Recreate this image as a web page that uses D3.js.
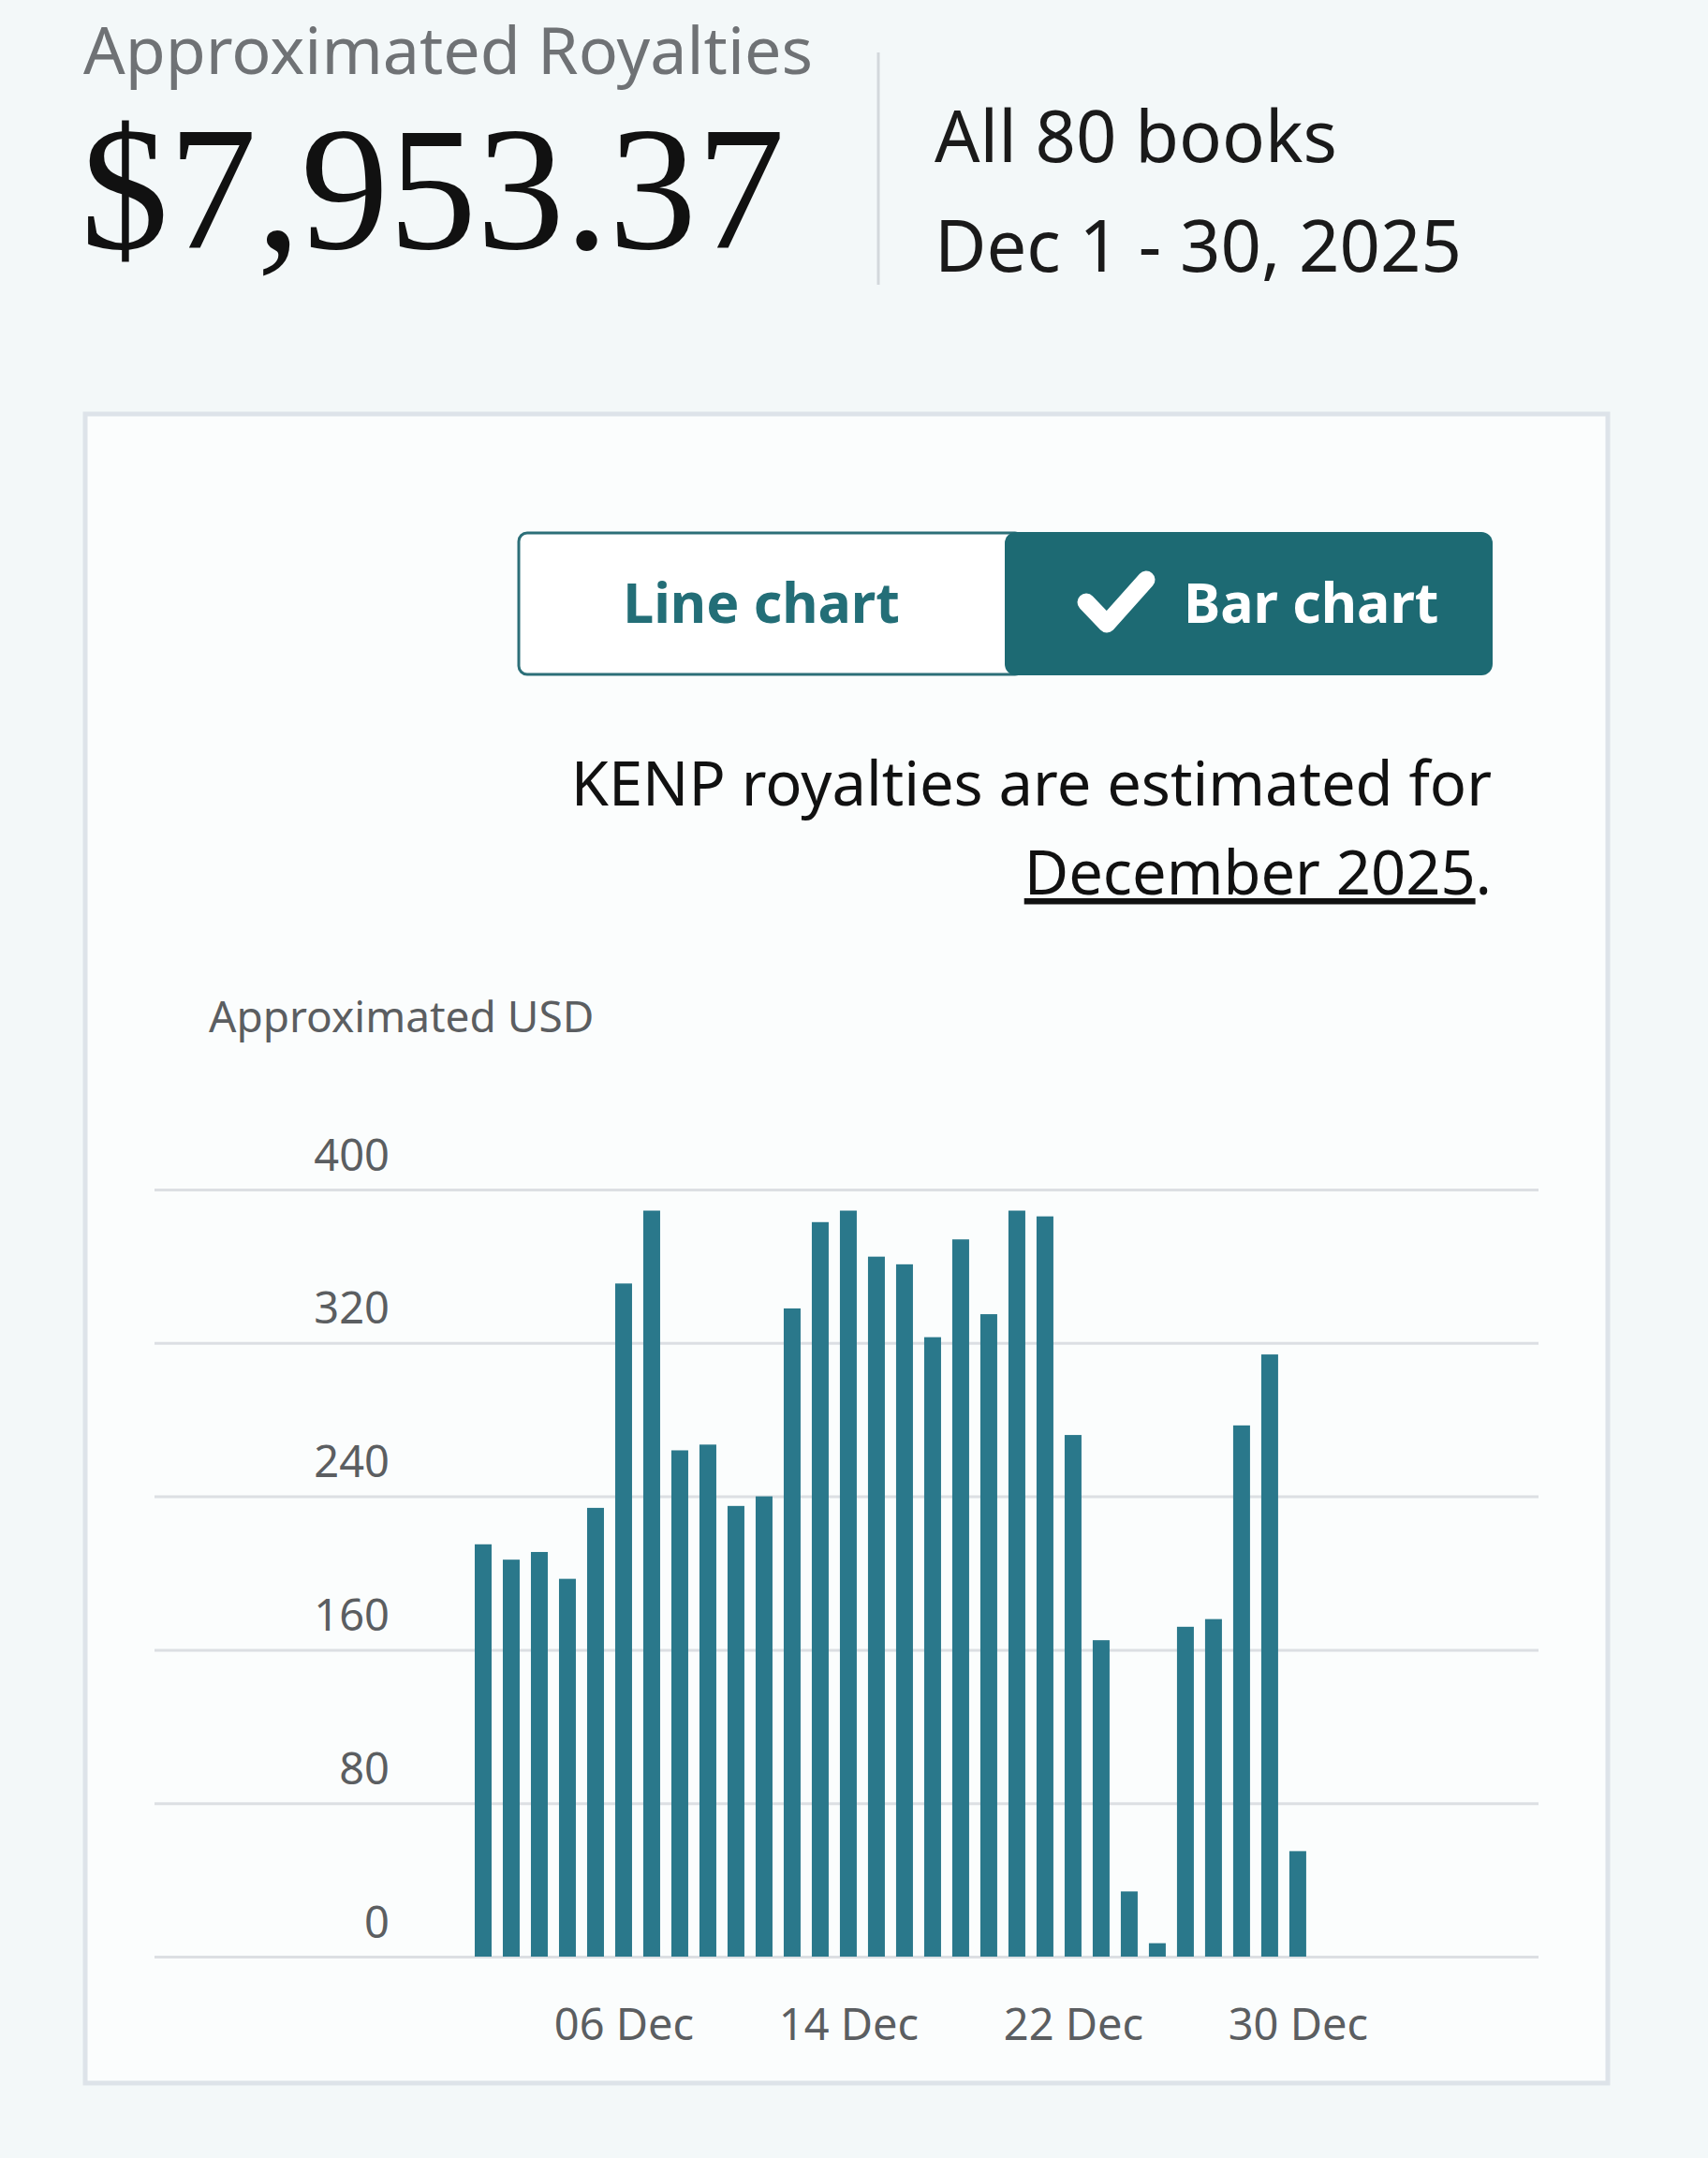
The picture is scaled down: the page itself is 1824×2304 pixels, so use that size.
<!DOCTYPE html>
<html>
<head>
<meta charset="utf-8">
<script src="https://cdn.jsdelivr.net/npm/d3@7"></script>
<style>
    body { margin: 0; background-color: #f3f8f9; }
    text { font-family: "Noto Sans", "Open Sans", sans-serif; }
</style>
</head>
<body>
<script>
//royalties bar chart, dec 2025

//data: one value per day (approximated USD)
var days = [1,2,3,4,5,6,7,8,9,10,11,12,13,14,15,16,17,18,19,20,21,22,23,24,25,26,27,28,29,30];
var royalties = [215,207,211,197,234,351,389,264,267,235,240,338,383,389,365,361,323,374,335,389,386,272,165,34,7,172,176,277,314,55];
var yTicks = [0, 80, 160, 240, 320, 400];
var xTickDays = [6, 14, 22, 30];
var xTickLabels = ["06 Dec", "14 Dec", "22 Dec", "30 Dec"];

window.onload = function(){

    var w = 1824, h = 2304;

    var container = d3.select("body")
        .append("svg")
        .attr("width", w)
        .attr("height", h)
        .attr("class", "container");

    //header block
    container.append("text")
        .attr("x", 89)
        .attr("y", 79)
        .style("font-size", "70px")
        .style("fill", "#6f7275")
        .text("Approximated Royalties");

    container.append("text")
        .attr("x", 86)
        .attr("y", 265)
        .style("font-family", "'Liberation Serif', 'DejaVu Serif', serif")
        .style("font-size", "188px")
        .style("fill", "#111")
        .text("$7,953.37");

    //divider
    container.append("line")
        .attr("x1", 938).attr("x2", 938)
        .attr("y1", 56).attr("y2", 304)
        .style("stroke", "#d3d8dc")
        .style("stroke-width", 3);

    container.append("text")
        .attr("x", 998)
        .attr("y", 173)
        .style("font-size", "76px")
        .style("fill", "#1a1a1a")
        .text("All 80 books");

    container.append("text")
        .attr("x", 998)
        .attr("y", 290)
        .style("font-size", "76px")
        .style("fill", "#1a1a1a")
        .text("Dec 1 - 30, 2025");

    //card around the chart
    container.append("rect")
        .attr("x", 91)
        .attr("y", 442)
        .attr("width", 1626)
        .attr("height", 1782)
        .style("fill", "#fbfdfd")
        .style("stroke", "#dde3e9")
        .style("stroke-width", 5);

    //toggle buttons
    var toggle = container.append("g").attr("class", "toggle");

    toggle.append("rect")
        .attr("x", 554).attr("y", 569)
        .attr("width", 539).attr("height", 151)
        .attr("rx", 9)
        .style("fill", "#ffffff")
        .style("stroke", "#2c6f78")
        .style("stroke-width", 3);

    toggle.append("rect")
        .attr("x", 1073).attr("y", 568)
        .attr("width", 521).attr("height", 153)
        .attr("rx", 12)
        .style("fill", "#1d6a73");

    toggle.append("text")
        .attr("x", 813)
        .attr("y", 665)
        .attr("text-anchor", "middle")
        .style("font-size", "59px")
        .style("font-weight", "bold")
        .style("fill", "#236e77")
        .text("Line chart");

    toggle.append("path")
        .attr("d", "M1160,643 L1182,666 L1224,619")
        .style("fill", "none")
        .style("stroke", "#ffffff")
        .style("stroke-width", 19)
        .style("stroke-linecap", "round")
        .style("stroke-linejoin", "round");

    toggle.append("text")
        .attr("x", 1264)
        .attr("y", 665)
        .style("font-size", "59px")
        .style("font-weight", "bold")
        .style("fill", "#ffffff")
        .text("Bar chart");

    //note
    container.append("text")
        .attr("x", 1593)
        .attr("y", 860)
        .attr("text-anchor", "end")
        .style("font-size", "65px")
        .style("fill", "#111")
        .text("KENP royalties are estimated for");

    var note2 = container.append("text")
        .attr("x", 1593)
        .attr("y", 955)
        .attr("text-anchor", "end")
        .style("font-size", "65px")
        .style("fill", "#111");
    note2.append("tspan")
        .style("text-decoration", "underline")
        .text("December 2025");
    note2.append("tspan").text(".");

    container.append("text")
        .attr("x", 223)
        .attr("y", 1102)
        .style("font-size", "46px")
        .style("fill", "#5b5e61")
        .text("Approximated USD");

    //scales
    var y = d3.scaleLinear()
        .range([2089, 1270])
        .domain([0, 400]);

    //day number -> pixel, plot runs a bit past both ends of the month
    var x = d3.scaleLinear()
        .range([165, 1643])
        .domain([-10.7, 38.57]);

    var barW = 18;

    //gridlines + y labels
    var yAxis = d3.axisLeft(y)
        .tickValues(yTicks)
        .tickSize(-(1643 - 165))
        .tickPadding(0)
        .tickFormat(d3.format("d"));

    var axis = container.append("g")
        .attr("class", "axis")
        .attr("transform", "translate(165, 0)");
    yAxis(axis);
    axis.select(".domain").remove();
    axis.selectAll(".tick line")
        .style("stroke", "#dcdfe3")
        .style("stroke-width", 3);
    axis.selectAll(".tick text")
        .attr("x", 416 - 165)
        .attr("dy", -21)
        .attr("text-anchor", "end")
        .style("font-family", "'Noto Sans', sans-serif")
        .style("font-size", "47px")
        .style("fill", "#5b5e61");

    //bars
    var bars = container.selectAll(".bars")
        .data(days)
        .enter()
        .append("rect")
        .attr("class", "bars")
        .attr("x", function(d){
            return x(d) - barW / 2;
        })
        .attr("y", function(d, i){
            return y(royalties[i]);
        })
        .attr("width", barW)
        .attr("height", function(d, i){
            return y(0) - y(royalties[i]);
        })
        .style("fill", "#2a788b");

    //x labels
    var xAxis = d3.axisBottom(x)
        .tickValues(xTickDays)
        .tickSize(0)
        .tickPadding(0)
        .tickFormat(function(d, i){ return xTickLabels[i]; });

    var xg = container.append("g")
        .attr("class", "xaxis")
        .attr("transform", "translate(0, 2089)");
    xAxis(xg);
    xg.select(".domain").remove();
    xg.selectAll(".tick text")
        .attr("y", 89)
        .attr("dy", 0)
        .style("font-family", "'Noto Sans', sans-serif")
        .style("font-size", "47px")
        .style("fill", "#5b5e61");
};
</script>
</body>
</html>
